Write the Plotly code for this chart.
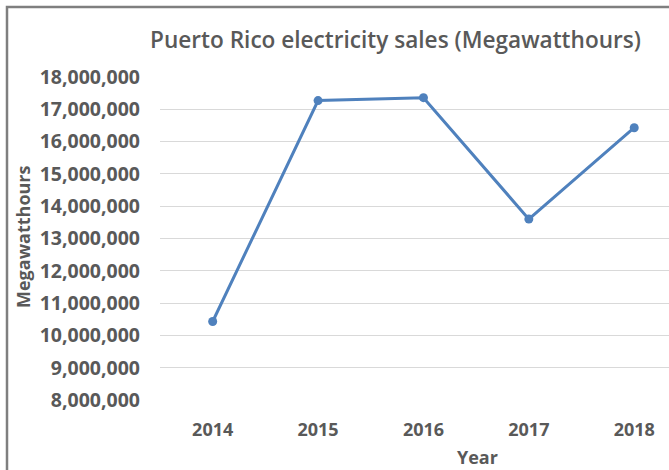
import plotly.graph_objects as go

years = ["2014", "2015", "2016", "2017", "2018"]
sales = [10430000, 17270000, 17360000, 13600000, 16430000]
y_ticks = list(range(8000000, 18000001, 1000000))
y_tick_labels = [f"{v:,}" for v in y_ticks]

TXT = "#595959"
FONT = "Open Sans"

fig = go.Figure()
fig.add_trace(go.Scatter(
    x=list(range(len(years))), y=sales, mode="lines+markers",
    line=dict(color="#4F81BD", width=3),
    marker=dict(color="#4F81BD", size=9),
    showlegend=False, cliponaxis=False,
))

W, H = 669, 470
L, R, T, B = 160, 0, 77, 70

fig.update_layout(
    width=W, height=H,
    margin=dict(l=L, r=R, t=T, b=B),
    paper_bgcolor="white", plot_bgcolor="white",
    font=dict(family=FONT, color=TXT),
    title=dict(text="Puerto Rico electricity sales (Megawatthours)",
               x=395.5 / W, xanchor="center", xref="container",
               y=1 - 40 / H, yanchor="middle", yref="container",
               font=dict(size=22.6, color=TXT, family=FONT, weight=600)),
    xaxis=dict(range=[-0.5, 4.33], tickmode="array",
               tickvals=list(range(len(years))), ticktext=years,
               showgrid=False, zeroline=False, showline=False,
               ticks="", ticklabelstandoff=17,
               tickfont=dict(size=18, color=TXT, family=FONT, weight="bold")),
    yaxis=dict(range=[8000000, 18000000], tickmode="array",
               tickvals=y_ticks, ticktext=y_tick_labels,
               showgrid=True, gridcolor="#D9D9D9", gridwidth=1,
               zeroline=False, showline=False, ticks="",
               ticklabelstandoff=19,
               tickfont=dict(size=19.5, color=TXT, family=FONT, weight="bold")),
)

pw = W - L - R
ph = H - T - B
fig.add_annotation(text="Year", xref="paper", yref="paper",
                   x=(477 - L) / pw, y=-(457 - (H - B)) / ph,
                   xanchor="center", yanchor="middle", showarrow=False,
                   font=dict(size=18, color=TXT, family=FONT, weight="bold"))
fig.add_annotation(text="Megawatthours", xref="paper", yref="paper",
                   x=(23 - L) / pw, y=((H - B) - 237) / ph, textangle=-90,
                   xanchor="center", yanchor="middle", showarrow=False,
                   font=dict(size=18, color=TXT, family=FONT, weight="bold"))
fig.add_shape(type="rect", xref="paper", yref="paper",
              x0=(7 - L) / pw, x1=1.5, y0=-1, y1=((H - B) - 7) / ph,
              line=dict(color="#7F7F7F", width=2.5), layer="above")

fig.write_html("out.html")
